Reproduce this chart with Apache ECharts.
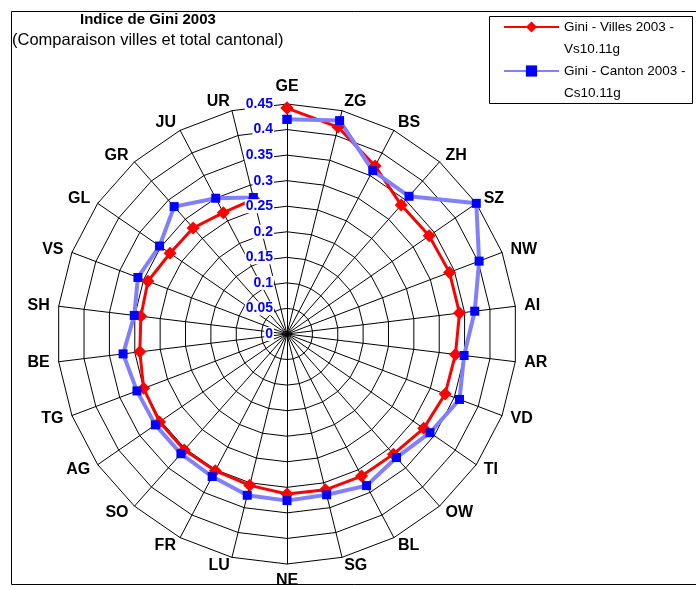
<!DOCTYPE html>
<html>
<head>
<meta charset="utf-8">
<script src="https://cdn.jsdelivr.net/npm/echarts@6/dist/echarts.min.js"></script>
<style>
  html, body { margin: 0; padding: 0; background: #fff; }
  #chart { width: 696px; height: 590px; }
</style>
</head>
<body>
<div id="chart"></div>
<script>
// cantons, clockwise from the top
var cantons = ['GE', 'ZG', 'BS', 'ZH', 'SZ', 'NW', 'AI', 'AR', 'VD', 'TI', 'OW', 'BL', 'SG',
  'NE', 'LU', 'FR', 'SO', 'AG', 'TG', 'BE', 'SH', 'VS', 'GL', 'GR', 'JU', 'UR'];
var villes = [0.442, 0.417, 0.371, 0.337, 0.338, 0.340, 0.340, 0.332, 0.331, 0.325, 0.314, 0.314, 0.314,
  0.313, 0.305, 0.302, 0.303, 0.303, 0.300, 0.290, 0.288, 0.291, 0.278, 0.277, 0.268, 0.272];
var cantonal = [0.420, 0.430, 0.361, 0.360, 0.450, 0.402, 0.370, 0.349, 0.361, 0.340, 0.323, 0.335, 0.324,
  0.326, 0.325, 0.315, 0.313, 0.313, 0.314, 0.323, 0.301, 0.312, 0.303, 0.333, 0.300, 0.275];
var serieNames = ['Gini - Villes 2003 -\nVs10.11g', 'Gini - Canton 2003 -\nCs10.11g'];

var font = 'Liberation Sans, Arial, sans-serif';
var cx = 287, cy = 334, rad = 230;

// radar draws its axes counter-clockwise, so keep the first one and reverse the rest
function ccw(arr) {
  return [arr[0]].concat(arr.slice(1).reverse());
}

// polar points, closed back onto the first canton
function points(values) {
  var pts = [];
  for (var i = 0; i < cantons.length; i++) {
    pts.push([values[i], cantons[i]]);
  }
  pts.push([values[0], cantons[0]]);
  return pts;
}

var chart = echarts.init(document.getElementById('chart'));

chart.setOption({
  animation: false,
  title: [
    {
      text: 'Indice de Gini 2003',
      left: 80, top: 12, padding: 0,
      textStyle: { fontFamily: font, fontSize: 15, fontWeight: 'bold', color: '#000' }
    },
    {
      text: '(Comparaison villes et total cantonal)',
      left: 12, top: 32, padding: 0,
      textStyle: { fontFamily: font, fontSize: 16.5, fontWeight: 'normal', color: '#000' }
    }
  ],
  legend: {
    orient: 'vertical',
    left: 503, top: -6, padding: 0,
    itemWidth: 55, itemHeight: 14, itemGap: -22,
    data: serieNames,
    // blank first line so the icon sits level with the first text line
    formatter: function (name) { return '\n' + name; },
    textStyle: { fontFamily: font, fontSize: 13.5, color: '#000', lineHeight: 22 }
  },
  radar: {
    center: [cx, cy],
    radius: rad,
    startAngle: 90,
    shape: 'polygon',
    splitNumber: 9,
    nameGap: 9,
    indicator: ccw(cantons).map(function (n) { return { name: n, min: 0, max: 0.45 }; }),
    axisName: { color: '#000', fontFamily: font, fontWeight: 'bold', fontSize: 16 },
    axisLine: { lineStyle: { color: '#000', width: 1 } },
    splitLine: { lineStyle: { color: '#000', width: 1 } },
    splitArea: { show: false },
    axisTick: { show: false },
    axisLabel: { show: false }
  },
  polar: { center: [cx, cy], radius: rad },
  angleAxis: {
    type: 'category',
    data: cantons,
    startAngle: 90,
    boundaryGap: false,
    show: false
  },
  radiusAxis: {
    type: 'value',
    min: 0, max: 0.45, interval: 0.05,
    z: 5,
    axisLine: { show: false },
    axisTick: { show: false },
    splitLine: { show: false },
    axisLabel: {
      showMinLabel: true, showMaxLabel: true,
      color: '#0000ff', fontFamily: font, fontWeight: 'bold', fontSize: 14,
      margin: 13, backgroundColor: '#fff', padding: [0, 1]
    }
  },
  series: [
    {
      name: serieNames[0],
      type: 'line',
      coordinateSystem: 'polar',
      data: points(villes),
      symbol: 'diamond', symbolSize: 13,
      lineStyle: { color: '#ff0000', width: 3 },
      itemStyle: { color: '#ff0000' }
    },
    {
      name: serieNames[1],
      type: 'line',
      coordinateSystem: 'polar',
      data: points(cantonal),
      symbol: 'rect', symbolSize: 9,
      lineStyle: { color: '#8080ff', width: 4 },
      itemStyle: { color: '#0000ff' }
    }
  ],
  graphic: [
    {
      type: 'rect', z: -1,
      shape: { x: 11.5, y: 11.5, width: 700, height: 573 },
      style: { fill: 'none', stroke: '#000', lineWidth: 1 }
    },
    {
      type: 'rect', z: -1,
      shape: { x: 489.5, y: 16.5, width: 203, height: 87 },
      style: { fill: '#fff', stroke: '#000', lineWidth: 1 }
    }
  ]
});
</script>
</body>
</html>
